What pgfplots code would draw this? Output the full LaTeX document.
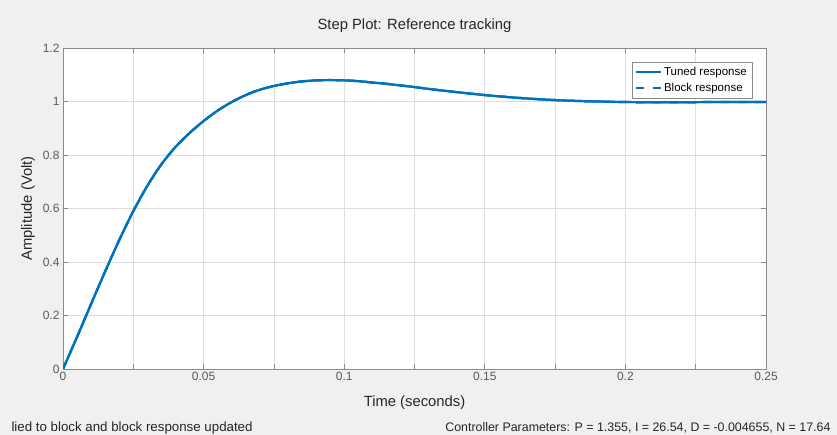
\documentclass[border=0pt]{standalone}
\usepackage{pgfplots}
\pgfplotsset{compat=1.18}
\usepackage{fontspec}
\setmainfont{Liberation Sans}
\definecolor{mblue}{HTML}{0072BD}
\definecolor{bg}{HTML}{F0F0F0}
\definecolor{tickgray}{HTML}{5A5A5A}
\definecolor{gridgray}{HTML}{DEDEDE}
\definecolor{axgray}{HTML}{8A8A8A}
\pgfplotstableread{
t y
0 0
0.005 0.12
0.01 0.243
0.015 0.365
0.02 0.482
0.025 0.59
0.03 0.685
0.035 0.765
0.04 0.83
0.045 0.882
0.05 0.927
0.055 0.966
0.06 0.998
0.065 1.024
0.07 1.044
0.075 1.058
0.08 1.068
0.085 1.075
0.09 1.079
0.095 1.08
0.1 1.079
0.105 1.076
0.11 1.071
0.115 1.066
0.12 1.06
0.125 1.054
0.13 1.047
0.14 1.035
0.15 1.024
0.16 1.015
0.17 1.008
0.18 1.003
0.19 1.0
0.2 0.998
0.21 0.997
0.22 0.997
0.23 0.998
0.24 0.998
0.25 0.998
}\resp
\begin{document}
\begin{tikzpicture}[x=1pt,y=1pt]
\fill[bg] (0,0) rectangle (837,435);
\useasboundingbox (0,0) rectangle (837,435);
\begin{axis}[
  at={(63pt,66pt)}, anchor=south west,
  width=703pt, height=321pt, scale only axis,
  xmin=0, xmax=0.25, ymin=0, ymax=1.2,
  xtick={0,0.05,0.1,0.15,0.2,0.25},
  xticklabels={0,0.05,0.1,0.15,0.2,0.25},
  minor xtick={0.025,0.075,0.125,0.175,0.225},
  ytick={0,0.2,0.4,0.6,0.8,1,1.2},
  yticklabels={0,0.2,0.4,0.6,0.8,1,1.2},
  grid=both,
  major grid style={color=gridgray, line width=0.8pt},
  minor grid style={color=gridgray, line width=0.8pt},
  tick align=inside,
  major tick length=5pt, minor tick length=5pt,
  axis line style={color=axgray, line width=0.8pt},
  tick style={color=axgray, line width=0.8pt},
  axis background/.style={fill=white},
  /pgf/number format/assume math mode=true,
  ticklabel style={font=\fontsize{12}{14}\selectfont, text=tickgray},
  title={Step Plot: Reference tracking},
  title style={at={(axis description cs:0.5,1.0498)}, anchor=center, font=\fontsize{14.8}{17}\selectfont, text=black!85},
  xlabel={Time (seconds)},
  xlabel style={at={(axis description cs:0.5,-0.1059)}, anchor=center, font=\fontsize{14.8}{17}\selectfont, text=black!85},
  ylabel={Amplitude (Volt)},
  ylabel style={at={(axis description cs:-0.0498,0.5)}, anchor=center, font=\fontsize{14.8}{17}\selectfont, text=black!85},
  legend style={at={(axis description cs:0.98,0.956)}, anchor=north east,
    font=\fontsize{11.5}{13}\selectfont, draw=axgray, fill=white,
    row sep=2pt, inner xsep=3pt, inner ysep=3pt},
  legend cell align=left,
  legend image code/.code={\draw[#1] (0pt,0pt) -- (25pt,0pt);},
]
\addplot[mblue, line width=2.2pt, smooth] table[x=t,y=y] {\resp};
\addlegendentry{Tuned response}
\addplot[mblue, line width=2.2pt, smooth, dash pattern=on 8pt off 9pt, forget plot] table[x=t,y=y] {\resp};
\addlegendimage{mblue, line width=2.2pt, dash pattern=on 8pt off 9pt}
\addlegendentry{Block response}
\addplot[mblue, line width=2.2pt, smooth, forget plot] table[x=t,y=y] {\resp};
\end{axis}
\node[anchor=base west, font=\fontsize{13.3}{15}\selectfont, text=black!85] at (8,3) {lied to block and block response updated};
\node[anchor=base east, font=\fontsize{12.4}{15}\selectfont, text=black!85] at (834,3) {Controller Parameters: P = 1.355, I = 26.54, D = -0.004655, N = 17.64};
\end{tikzpicture}
\end{document}
